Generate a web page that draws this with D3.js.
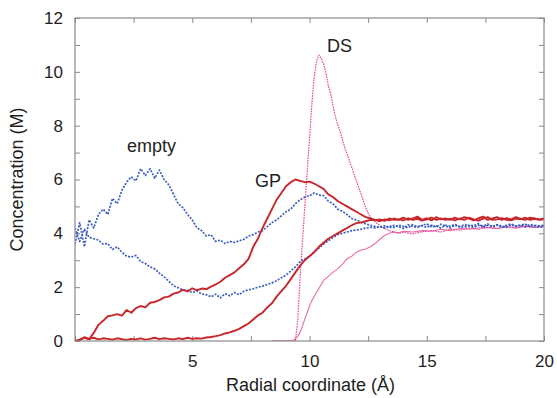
<!DOCTYPE html>
<html>
<head>
<meta charset="utf-8">
<script src="https://cdn.jsdelivr.net/npm/d3@7/dist/d3.min.js"></script>
<style>
  html, body { margin: 0; padding: 0; background: #fff; }
  svg { display: block; font-family: "Liberation Sans", Arial, Helvetica, sans-serif; }
</style>
</head>
<body>
<svg id="chart" width="557" height="398"></svg>
<script>
// ---------- DATA ----------
// sampling grid (Å) for the "empty" and "GP" profiles: 0 .. 20 every 0.2
const gridStep = 0.2;

// empty channel, two ion species (blue, dotted)
const emptyUpper = [
  3.6,4.4,3.5,4.5,4.2,4.7,4.9,4.7,5.3,5.1,
  5.6,5.9,6.1,5.95,6.4,6.15,6.4,6.05,6.35,6.0,
  5.8,5.45,5.1,4.95,4.7,4.5,4.2,4.1,3.9,3.95,
  3.7,3.75,3.62,3.7,3.66,3.72,3.78,3.9,3.95,4.05,
  4.1,4.25,4.4,4.5,4.65,4.8,4.9,5.1,5.25,5.35,
  5.4,5.5,5.42,5.4,5.2,5.1,4.9,4.82,4.7,4.55,
  4.5,4.42,4.35,4.3,4.25,4.22,4.28,4.2,4.3,4.25,
  4.18,4.32,4.26,4.22,4.3,4.35,4.24,4.28,4.2,4.3,
  4.27,4.33,4.25,4.22,4.3,4.28,4.36,4.24,4.3,4.26,
  4.32,4.22,4.3,4.35,4.27,4.3,4.24,4.33,4.28,4.22,
  4.25
];
const emptyLower = [
  4.2,3.7,4.15,3.85,3.8,3.75,3.6,3.62,3.4,3.5,
  3.3,3.15,3.12,3.18,2.95,2.88,2.75,2.68,2.52,2.38,
  2.22,2.05,1.98,1.9,1.88,1.8,1.86,1.75,1.72,1.64,
  1.74,1.6,1.76,1.68,1.8,1.72,1.85,1.9,1.94,2.0,
  2.04,2.1,2.16,2.24,2.35,2.45,2.6,2.75,2.95,3.05,
  3.15,3.3,3.45,3.6,3.72,3.84,3.95,4.0,4.05,4.1,
  4.12,4.15,4.2,4.22,4.2,4.25,4.2,4.28,4.22,4.3,
  4.26,4.2,4.32,4.25,4.28,4.22,4.3,4.24,4.34,4.27,
  4.2,4.3,4.25,4.32,4.28,4.22,4.3,4.26,4.35,4.24,
  4.3,4.28,4.22,4.32,4.26,4.3,4.35,4.25,4.3,4.28,
  4.3
];
// GP channel (red, solid)
const gpUpper = [
  0.0,0.03,0.12,0.06,0.3,0.6,0.75,0.92,0.95,1.0,
  0.94,1.15,1.05,1.22,1.3,1.25,1.42,1.45,1.52,1.62,
  1.65,1.76,1.8,1.9,1.84,1.96,1.88,1.95,1.93,2.02,
  2.1,2.2,2.35,2.45,2.55,2.7,2.85,3.05,3.5,3.8,
  4.2,4.55,4.9,5.25,5.5,5.75,5.9,6.0,5.95,5.9,
  5.92,5.85,5.75,5.65,5.45,5.35,5.2,5.1,5.0,4.9,
  4.8,4.7,4.6,4.55,4.5,4.45,4.52,4.48,4.55,4.5,
  4.58,4.5,4.55,4.62,4.5,4.56,4.48,4.6,4.52,4.55,
  4.5,4.58,4.52,4.6,4.55,4.48,4.56,4.62,4.5,4.55,
  4.6,4.5,4.56,4.52,4.6,4.54,4.5,4.58,4.55,4.52,
  4.55
];
const gpLower = [
  0.0,0.05,0.14,0.08,0.12,0.06,0.1,0.08,0.05,0.1,
  0.07,0.04,0.08,0.06,0.1,0.05,0.08,0.12,0.07,0.1,
  0.08,0.06,0.1,0.07,0.12,0.08,0.1,0.09,0.13,0.15,
  0.18,0.22,0.28,0.32,0.38,0.45,0.55,0.65,0.8,0.95,
  1.05,1.25,1.4,1.65,1.85,2.05,2.3,2.55,2.8,3.0,
  3.15,3.3,3.5,3.65,3.8,3.9,4.0,4.1,4.2,4.3,
  4.38,4.4,4.45,4.5,4.48,4.52,4.46,4.55,4.5,4.52,
  4.48,4.56,4.5,4.54,4.47,4.52,4.58,4.5,4.55,4.5,
  4.54,4.48,4.55,4.5,4.58,4.52,4.47,4.55,4.6,4.5,
  4.52,4.56,4.5,4.48,4.55,4.52,4.58,4.5,4.54,4.5,
  4.52
];
// DS channel (pink), own radial samples
const dsPeakX = [8.4,9.0,9.4,
  9.5,9.6,9.7,9.8,9.9,10.0,10.1,10.2,10.3,10.4,10.5,10.6,10.7,10.8,10.9,
  11.0,11.1,11.2,11.3,11.4,11.5,11.6,11.7,11.8,11.9,12.0,12.1,12.2,12.3,12.4,12.5,12.6,
  12.8,13.0,13.2,13.4,13.6,13.8,14.0,
  14.4,14.8,15.2,15.6,16.0,16.4,16.8,17.2,17.6,18.0,18.4,18.8,19.2,19.6,20.0];
const dsPeakY = [0,0,0.02,
  0.8,2.4,3.7,5.0,6.3,7.5,8.8,9.8,10.4,10.62,10.5,10.3,9.95,9.5,9.2,
  8.75,8.35,8.05,7.8,7.5,7.2,6.95,6.7,6.45,6.2,5.95,5.7,5.45,5.2,4.95,4.75,4.6,
  4.42,4.3,4.18,4.1,4.05,4.0,4.04,
  3.98,4.06,4.1,4.05,4.15,4.12,4.2,4.15,4.22,4.18,4.25,4.2,4.28,4.22,4.25];
const dsRiseX = [8.4,
  9.2,9.3,9.4,9.5,9.6,9.7,9.8,9.9,10.0,10.1,10.2,
  10.4,10.6,10.8,11.0,11.2,11.4,11.6,11.8,12.0,12.2,12.4,12.6,12.8,13.0,13.2,13.4,13.6,13.8,14.0,
  14.4,14.8,15.2,15.6,16.0,16.4,16.8,17.2,17.6,18.0,18.4,18.8,19.2,19.6,20.0];
const dsRiseY = [0,
  0,0.02,0.08,0.18,0.32,0.55,0.82,1.05,1.3,1.5,1.65,
  1.95,2.25,2.4,2.55,2.68,2.85,3.05,3.15,3.3,3.38,3.42,3.5,3.62,3.78,3.92,4.0,4.05,4.02,4.08,
  4.05,4.1,4.08,4.15,4.1,4.18,4.15,4.2,4.22,4.18,4.25,4.2,4.26,4.22,4.28];

const xTickValues = [0,2.5,5,7.5,10,12.5,15,17.5,20];
const xTickLabels = ["", "", "5", "", "10", "", "15", "", "20"];
const yTickValues = [0,1,2,3,4,5,6,7,8,9,10,11,12];
const yTickLabels = ["0","","2","","4","","6","","8","","10","","12"];

const annotations = [
  {text: "empty", x: 2.22, y: 7.02},
  {text: "GP",    x: 7.68, y: 5.72},
  {text: "DS",    x: 10.75, y: 10.74}
];

// ---------- CHART ----------
const W = 557, H = 398;
const margin = {left: 75, right: 13, top: 18, bottom: 57};
const svg = d3.select("#chart");

const x = d3.scaleLinear().domain([0, 20]).range([margin.left, W - margin.right]);
const y = d3.scaleLinear().domain([0, 12]).range([H - margin.bottom, margin.top]);

const frameColor = "#8a8a8a";
const textColor = "#1e1e1e";

// axes with inward ticks
const gx = svg.append("g").attr("transform", `translate(0,${y(0)})`)
  .call(d3.axisBottom(x).tickValues(xTickValues).tickSizeInner(-5).tickSizeOuter(0).tickPadding(14)
    .tickFormat((d, i) => xTickLabels[i]));
const gxt = svg.append("g").attr("transform", `translate(0,${y(12)})`)
  .call(d3.axisTop(x).tickValues(xTickValues).tickSizeInner(-5).tickSizeOuter(0).tickFormat(""));
const gy = svg.append("g").attr("transform", `translate(${x(0)},0)`)
  .call(d3.axisLeft(y).tickValues(yTickValues).tickSizeInner(-5).tickSizeOuter(0).tickPadding(12)
    .tickFormat((d, i) => yTickLabels[i]));
const gyr = svg.append("g").attr("transform", `translate(${x(20)},0)`)
  .call(d3.axisRight(y).tickValues(yTickValues).tickSizeInner(-5).tickSizeOuter(0).tickFormat(""));

[gx, gxt, gy, gyr].forEach(g => {
  g.select(".domain").remove();
  g.selectAll(".tick line").attr("stroke", frameColor).attr("stroke-width", 1);
  g.selectAll(".tick text").attr("fill", textColor).style("font-size", "17px")
    .style("font-family", '"Liberation Sans", Arial, sans-serif');
});

// clip
svg.append("clipPath").attr("id", "clip").append("rect")
  .attr("x", x(0)).attr("y", y(12)).attr("width", x(20) - x(0)).attr("height", y(0) - y(12));

const line = d3.line().x(d => x(d[0])).y(d => y(d[1]));
const onGrid = arr => arr.map((v, i) => [i * gridStep, v]);
const zipXY = (xs, ys) => xs.map((v, i) => [v, ys[i]]);

const series = [
  {data: zipXY(dsRiseX, dsRiseY), color: "#ec6aa8", width: 1.1, dash: null},
  {data: zipXY(dsPeakX, dsPeakY), color: "#e8489a", width: 1.2, dash: "1.6,1"},
  {data: onGrid(emptyUpper), color: "#3a5ec4", width: 1.7, dash: "2,1.4"},
  {data: onGrid(emptyLower), color: "#3a5ec4", width: 1.7, dash: "2,1.4"},
  {data: onGrid(gpUpper), color: "#c8262b", width: 1.9, dash: null},
  {data: onGrid(gpLower), color: "#c8262b", width: 1.9, dash: null}
];

const plot = svg.append("g").attr("clip-path", "url(#clip)");
series.forEach(s => {
  plot.append("path").datum(s.data)
    .attr("d", line)
    .attr("fill", "none")
    .attr("stroke", s.color)
    .attr("stroke-width", s.width)
    .attr("stroke-linejoin", "round")
    .attr("stroke-dasharray", s.dash);
});

// frame
svg.append("rect")
  .attr("x", x(0)).attr("y", y(12))
  .attr("width", x(20) - x(0)).attr("height", y(0) - y(12))
  .attr("fill", "none").attr("stroke", frameColor).attr("stroke-width", 1.2);

// annotations
svg.selectAll("text.anno").data(annotations).enter().append("text")
  .attr("class", "anno")
  .attr("x", d => x(d.x)).attr("y", d => y(d.y))
  .attr("fill", textColor)
  .style("font-size", "18px")
  .text(d => d.text);

// axis titles
svg.append("text")
  .attr("x", (x(0) + x(20)) / 2 + 1).attr("y", 391)
  .attr("text-anchor", "middle").attr("fill", textColor)
  .style("font-size", "18px")
  .text("Radial coordinate (Å)");

svg.append("text")
  .attr("transform", `translate(23,${(y(0) + y(12)) / 2}) rotate(-90)`)
  .attr("text-anchor", "middle").attr("fill", textColor)
  .style("font-size", "18px")
  .text("Concentration (M)");
</script>
</body>
</html>
